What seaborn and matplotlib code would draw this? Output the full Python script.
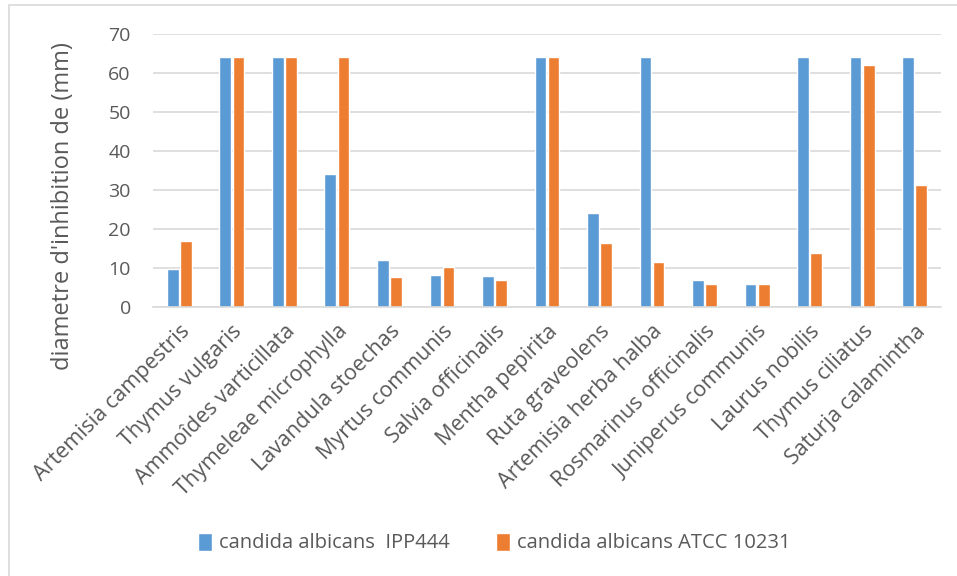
import numpy as np
import pandas as pd
import matplotlib.pyplot as plt
import seaborn as sns
from matplotlib.patches import Rectangle

plants = [
    "Artemisia campestris", "Thymus vulgaris", "Ammoîdes varticillata",
    "Thymeleae microphylla", "Lavandula stoechas", "Myrtus communis",
    "Salvia officinalis", "Mentha pepirita", "Ruta graveolens",
    "Artemisia herba halba", "Rosmarinus officinalis", "Juniperus communis",
    "Laurus nobilis", "Thymus ciliatus", "Saturja calamintha",
]
ipp444 = [9.7, 64, 64, 34, 12, 8.3, 7.9, 64, 24.1, 64, 6.9, 6.0, 64, 64, 64]
atcc10231 = [17, 64, 64, 64, 7.6, 10.3, 6.8, 64, 16.4, 11.5, 6.0, 6.0, 13.9, 62, 31.2]
series = ["candida albicans  IPP444", "candida albicans ATCC 10231"]
colors = ["#5B9BD5", "#ED7D31"]


def build_df():
    df = pd.DataFrame({"plant": plants, series[0]: ipp444, series[1]: atcc10231})
    return df.melt(id_vars="plant", var_name="souche", value_name="diam")


def create_plot(df):
    sns.set_theme(style="white")
    plt.rcParams["font.family"] = ["Open Sans", "DejaVu Sans"]

    fig = plt.figure(figsize=(9.57, 5.76), dpi=100)
    ax = fig.add_axes([153 / 957, 1 - 307 / 576, 788 / 957, 273 / 576])
    sns.barplot(data=df, x="plant", y="diam", hue="souche", palette=colors,
                saturation=1, width=0.5, gap=0.11, ax=ax, legend=True)

    ax.set_ylim(0, 70)
    ax.set_yticks(range(0, 71, 10))
    ax.set_xlim(-0.5, len(plants) - 0.5)
    ax.yaxis.grid(True, color="#D9D9D9", linewidth=1.2)
    ax.set_axisbelow(True)
    for s in ["top", "right", "left"]:
        ax.spines[s].set_visible(False)
    ax.spines["bottom"].set_color("#D9D9D9")
    ax.spines["bottom"].set_linewidth(1.2)

    ax.tick_params(axis="y", labelsize=14, labelcolor="#595959", length=0, pad=16)
    ax.tick_params(axis="x", length=0, pad=10)
    ax.set_xticks(range(len(plants)))
    ax.set_xticklabels(plants, rotation=45, ha="right", rotation_mode="anchor",
                       fontsize=15.5, color="#595959")
    ax.set_xlabel("")
    ax.set_ylabel("diametre d'inhibition de (mm)", fontsize=17, color="#595959")
    ax.yaxis.set_label_coords(-78 / 788, (307 - 206) / 273)

    ax.legend(loc="center", bbox_to_anchor=(494 / 957, 1 - 543 / 576),
              bbox_transform=fig.transFigure, ncol=2, frameon=False,
              fontsize=14.5, handlelength=0.7, handleheight=1.0,
              handletextpad=0.35, columnspacing=2.3, labelcolor="#595959")

    fig.patches.append(Rectangle((9 / 957, -0.1), 1.2, 1 - 5 / 576 + 0.1,
                                 transform=fig.transFigure, fill=False,
                                 edgecolor="#D9D9D9", linewidth=1.2))
    return fig


def main():
    df = build_df()
    fig = create_plot(df)
    fig.savefig("out.png", dpi=100)


if __name__ == "__main__":
    main()
